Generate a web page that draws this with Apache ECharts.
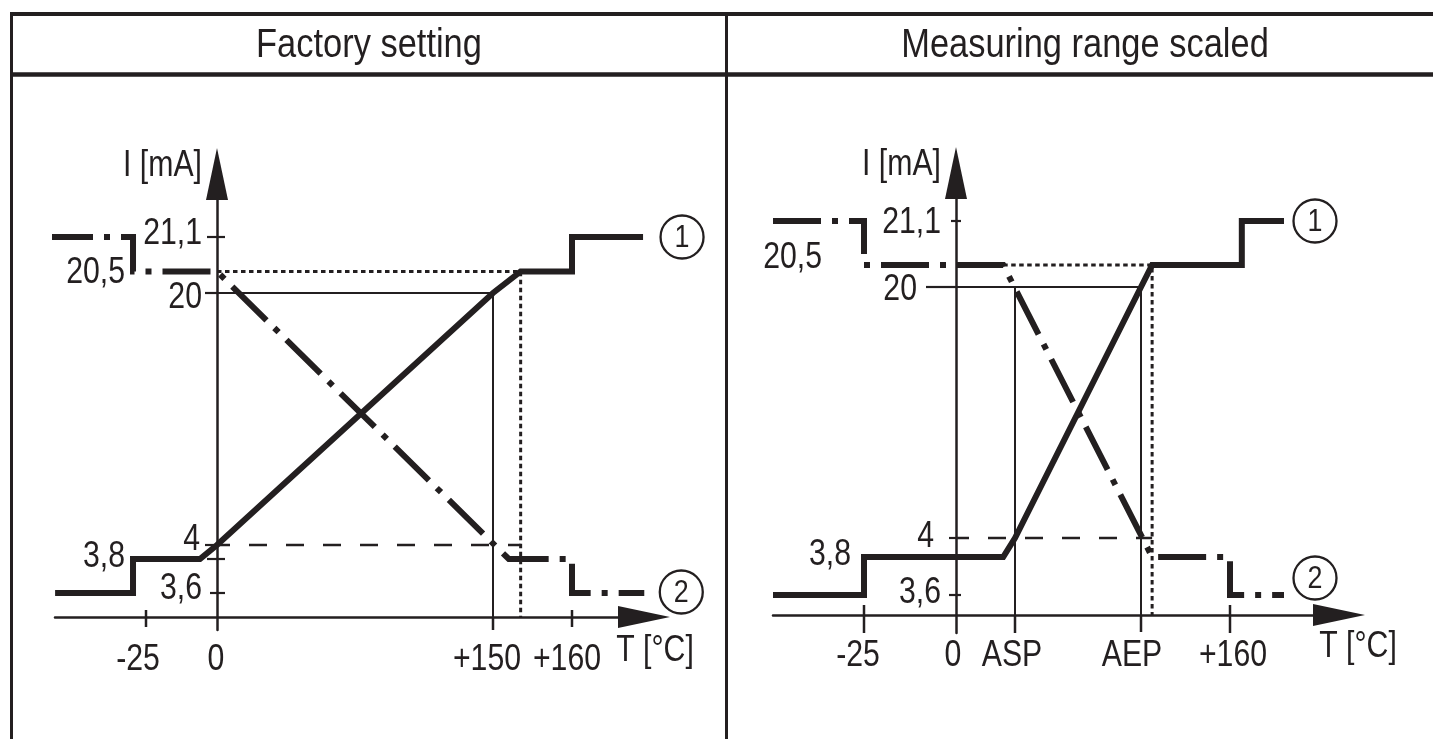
<!DOCTYPE html>
<html lang="en">
<head>
<meta charset="UTF-8">
<title>Analog output characteristic</title>
<script src="https://cdn.jsdelivr.net/npm/echarts@6/dist/echarts.min.js"></script>
<style>
    html, body { margin: 0; padding: 0; background: #fff; }
    #main { width: 1433px; height: 739px; }
</style>
</head>
<body>
<div id="main"></div>
<script>
    // ---------- data (T in °C, I in mA) ----------
    var levelValues = [3.6, 3.8, 4, 20, 20.5, 21.1];
    var levelLabels = ['3,6', '3,8', '4', '20', '20,5', '21,1'];

    // factory setting
    var factoryTicks = [-25, 0, 150, 160];
    var factoryTickLabels = ['-25', '0', '+150', '+160'];
    var factoryOut1 = [[-56.5, 3.6], [-29.5, 3.6], [-29.5, 3.8], [-6, 3.8], [0, 4], [150, 20], [153.5, 20.5], [160, 20.5], [160, 21.1], [189, 21.1]];
    var factoryOut2 = [[-60, 21.1], [-29.5, 21.1], [-29.5, 20.5], [0, 20.5], [152, 3.8], [160, 3.8], [160, 3.6], [189.5, 3.6]];
    var factoryFull = [[0, 20], [150, 20], [150, 0]];
    var factoryOverrun = [[0, 20.5], [153.5, 20.5], [153.5, 0]];
    var factoryUnder = [[0, 4], [153.5, 4]];

    // measuring range scaled (ASP / AEP are nominal, only their names are shown)
    var ASP = 20, AEP = 120;
    var scaledTicks = [-25, 0, ASP, AEP, 160];
    var scaledTickLabels = ['-25', '0', 'ASP', 'AEP', '+160'];
    var scaledOut1 = [[-60, 3.6], [-25, 3.6], [-25, 3.8], [16, 3.8], [ASP, 4], [AEP, 20], [125, 20.5], [163.5, 20.5], [163.5, 21.1], [176, 21.1]];
    var scaledOut2 = [[-60, 21.1], [-25, 21.1], [-25, 20.5], [16, 20.5], [125, 3.8], [160, 3.8], [160, 3.6], [176, 3.6]];
    var scaledFull = [[0, 20], [AEP, 20], [AEP, 0]];
    var scaledStart = [[ASP, 20], [ASP, 0]];
    var scaledOverrun = [[16, 20.5], [125, 20.5], [125, 0]];
    var scaledUnder = [[0, 4], [125, 4]];

    var axisNames = ['T [°C]', 'I [mA]'];

    // ---------- layout ----------
    // the drawing is not to scale: each axis is piecewise linear between these [value, px from origin] pairs
    var factoryTScale = [[-60, -172], [-25, -71], [0, 0], [150, 276], [160, 355], [200, 453]];
    var factoryIScale = [[0, 0], [3.6, 24], [3.8, 58], [4, 72], [20, 324], [20.5, 345.5], [21.1, 380], [30, 469]];
    var scaledTScale = [[-60, -183], [-25, -92], [0, 0], [ASP, 59], [AEP, 185], [160, 274], [200, 409]];
    var scaledIScale = [[0, 0], [3.6, 20], [3.8, 58], [4, 77], [20, 328], [20.5, 350], [21.1, 394], [30, 468]];

    var INK = '#231f20';
    // no narrow font installed: Liberation Sans squeezed horizontally
    var FONT = '"Liberation Sans", Arial, sans-serif';
    var NARROW = 0.84;

    function warp(knots, v) {
        var i = 1;
        while (i < knots.length - 1 && v > knots[i][0]) i++;
        var a = knots[i - 1], b = knots[i];
        return a[1] + (v - a[0]) * (b[1] - a[1]) / (b[0] - a[0]);
    }

    function text(x, y, str, size, align) {
        return {type: 'text', x: x, y: y, scaleX: NARROW,
            style: {text: str, fill: INK, font: size + 'px ' + FONT, align: align, verticalAlign: 'middle'}};
    }

    var panels = [{
        title: 'Factory setting', titleX: 369,
        grid: {left: 55, top: 174, width: 589, height: 456},
        xRange: [-162, 427], yRange: [-13, 443],
        tScale: factoryTScale, iScale: factoryIScale,
        ticks: factoryTicks, tickLabels: factoryTickLabels,
        out1: factoryOut1, out2: factoryOut2,
        solid: [factoryFull], dotted: factoryOverrun, dashed: factoryUnder,
        xLabelPos: [[-8, 43], [-1, 43], [-6, 43], [-5, 43]],
        yLabelPos: [[-15, -4], [-92, -2], [-17, -5], [-15, 5], [-92, 1.5], [-15, -3]],
        xTickLen: [[7, 10], [0, 0], [0, 13], [7, 10]],
        yTickLen: [[7, 8], [10, 8], [12, 0], [12, 0], [0, 0], [10, 8]],
        circlePos: [[39, 0], [37, -1]],
        namePos: [[11, 34.5], [-15, -8]]
    }, {
        title: 'Measuring range scaled', titleX: 1085,
        grid: {left: 773, top: 173, width: 566, height: 460},
        xRange: [-183, 383], yRange: [-18, 442],
        tScale: scaledTScale, iScale: scaledIScale,
        ticks: scaledTicks, tickLabels: scaledTickLabels,
        out1: scaledOut1, out2: scaledOut2,
        solid: [scaledFull, scaledStart], dotted: scaledOverrun, dashed: scaledUnder,
        xLabelPos: [[-6, 41], [-3, 41], [-3, 41], [-9, 41], [3, 41]],
        yLabelPos: [[-15, -2], [-105, -2], [-22, -1], [-39, 3], [-134, -7], [-15, 2]],
        xTickLen: [[10, 18], [0, 0], [0, 18], [0, 17], [10, 18]],
        yTickLen: [[7, 5], [0, 0], [7, 0], [30, 0], [0, 0], [5, 5]],
        circlePos: [[31, 0], [31, -17]],
        namePos: [[19, 32.5], [-15, -8]]
    }];

    var grids = [], xAxes = [], yAxes = [], series = [];

    panels.forEach(function (p, k) {
        function pt(d) { return [warp(p.tScale, d[0]), warp(p.iScale, d[1])]; }
        function line(data, style, z) {
            series.push({
                type: 'line', xAxisIndex: k, yAxisIndex: k, data: data.map(pt),
                symbol: 'none', clip: false, silent: true, z: z,
                lineStyle: Object.assign({color: INK, cap: 'butt', join: 'miter'}, style)
            });
        }
        function labels(data, render) {
            series.push({
                type: 'custom', xAxisIndex: k, yAxisIndex: k, silent: true, z: 4, data: data,
                renderItem: function (params, api) {
                    return render(api.coord([api.value(0), api.value(1)]), params.dataIndex);
                }
            });
        }
        var xTickData = p.ticks.map(function (t) { return [warp(p.tScale, t), 0]; });
        var yTickData = levelValues.map(function (v) { return [0, warp(p.iScale, v)]; });

        grids.push(p.grid);
        xAxes.push({
            type: 'value', gridIndex: k, min: p.xRange[0], max: p.xRange[1],
            axisLine: {onZero: true, symbol: ['none', 'triangle'], symbolSize: [22, 52], lineStyle: {color: INK, width: 2.5}},
            axisTick: {show: false}, axisLabel: {show: false}, splitLine: {show: false}
        });
        yAxes.push({
            type: 'value', gridIndex: k, min: p.yRange[0], max: p.yRange[1],
            axisLine: {onZero: true, symbol: ['none', 'triangle'], symbolSize: [22, 52], lineStyle: {color: INK, width: 2.5}},
            axisTick: {show: false}, axisLabel: {show: false}, splitLine: {show: false}
        });

        // guide lines
        p.solid.forEach(function (d) { line(d, {width: 2}, 2); });
        line(p.dotted, {width: 3, type: [4.5, 3.5]}, 2);
        line(p.dashed, {width: 2.5, type: [18, 19], dashOffset: 5}, 2);

        // outputs 1 and 2
        line(p.out1, {width: 6}, 5);
        line(p.out2, {width: 6, type: [48, 11, 6, 11]}, 5);

        // ticks crossing the axes
        labels(xTickData, function (c, i) {
            var len = p.xTickLen[i];
            return {type: 'line', shape: {x1: c[0], y1: c[1] - len[0], x2: c[0], y2: c[1] + len[1]}, style: {stroke: INK, lineWidth: 2.5}};
        });
        labels(yTickData, function (c, i) {
            var len = p.yTickLen[i];
            return {type: 'line', shape: {x1: c[0] - len[0], y1: c[1], x2: c[0] + len[1], y2: c[1]}, style: {stroke: INK, lineWidth: 2.2}};
        });

        // tick labels
        labels(xTickData, function (c, i) {
            var off = p.xLabelPos[i];
            return text(c[0] + off[0], c[1] + off[1], p.tickLabels[i], 36, 'center');
        });
        labels(yTickData, function (c, i) {
            var off = p.yLabelPos[i];
            return text(c[0] + off[0], c[1] + off[1], levelLabels[i], 36, 'right');
        });

        // axis names next to the arrow heads
        labels([[p.xRange[1], 0], [0, p.yRange[1]]], function (c, i) {
            var off = p.namePos[i];
            return text(c[0] + off[0], c[1] + off[1], axisNames[i], 36, i ? 'right' : 'center');
        });

        // circled output numbers at the end of each output line
        labels([p.out1[p.out1.length - 1], p.out2[p.out2.length - 1]].map(pt), function (c, i) {
            var off = p.circlePos[i];
            var cx = c[0] + off[0], cy = c[1] + off[1];
            return {type: 'group', children: [
                {type: 'circle', shape: {cx: cx, cy: cy, r: 21.5}, style: {fill: '#fff', stroke: INK, lineWidth: 2.3}},
                text(cx, cy + 1, String(i + 1), 32, 'center')
            ]};
        });
    });

    var frame = [
        {type: 'line', shape: {x1: 10, y1: 14, x2: 1433, y2: 14}, style: {stroke: INK, lineWidth: 4}},
        {type: 'line', shape: {x1: 10, y1: 74.5, x2: 1433, y2: 74.5}, style: {stroke: INK, lineWidth: 4.5}},
        {type: 'line', shape: {x1: 11.5, y1: 12, x2: 11.5, y2: 739}, style: {stroke: INK, lineWidth: 3}},
        {type: 'line', shape: {x1: 726.5, y1: 12, x2: 726.5, y2: 739}, style: {stroke: INK, lineWidth: 3}}
    ];
    panels.forEach(function (p) {
        frame.push(text(p.titleX, 46, p.title, 41, 'center'));
    });

    var chart = echarts.init(document.getElementById('main'));
    chart.setOption({
        animation: false,
        backgroundColor: '#fff',
        graphic: frame,
        grid: grids,
        xAxis: xAxes,
        yAxis: yAxes,
        series: series
    });
</script>
</body>
</html>
